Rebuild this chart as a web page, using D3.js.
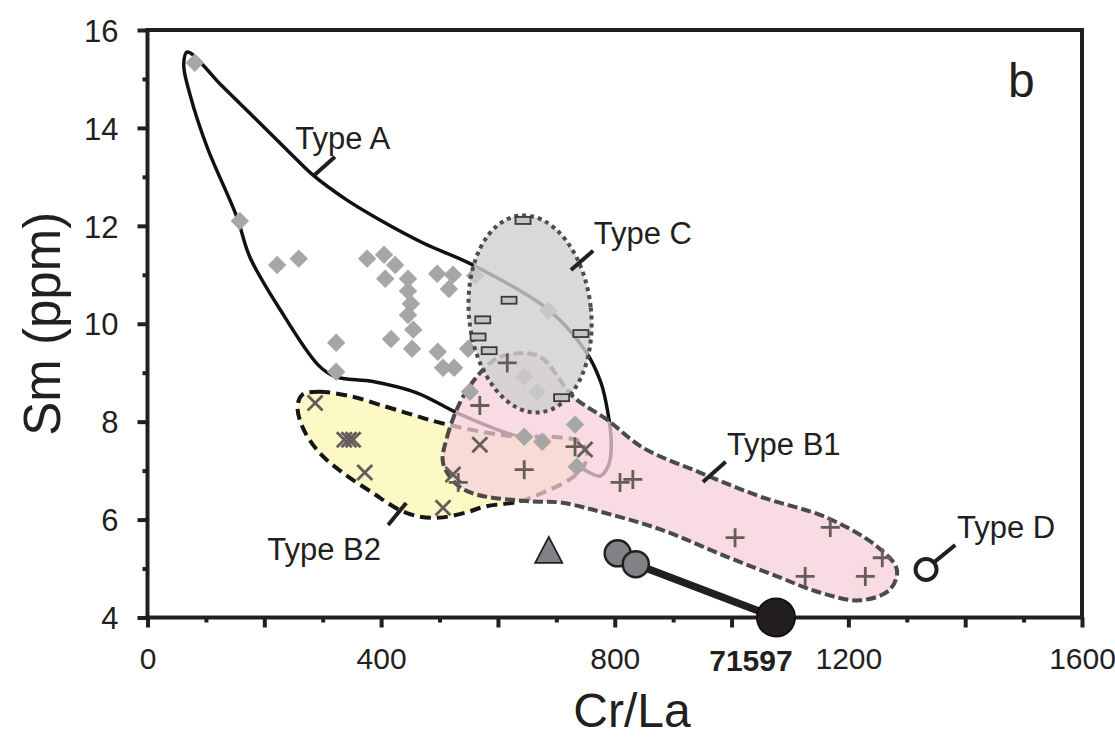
<!DOCTYPE html>
<html><head><meta charset="utf-8">
<script src="https://cdn.jsdelivr.net/npm/d3@7"></script>
<style>
body{margin:0;background:#fff}
svg{display:block}
text{font-family:"Liberation Sans",Arial,sans-serif;fill:#231f20}
</style>
</head><body>
<svg id="c" width="1115" height="740"></svg>
<script>
// ---------------- data (Cr/La, Sm ppm) ----------------
const typeA_points = [[81,15.33],[158,12.10],[222,11.20],[259,11.33],[376,11.33],[405,11.41],[424,11.20],
  [407,10.92],[446,10.92],[446,10.67],[451,10.41],[446,10.18],[455,9.88],[417,9.69],[453,9.49],[323,9.61],
  [496,11.02],[523,11.00],[561,10.98],[516,10.71],[497,9.43],[506,9.10],[525,9.10],[549,9.49],[323,9.02],
  [552,8.61],[686,10.27],[645,8.92],[667,8.61],[732,7.94],[645,7.69],[676,7.59],[735,7.08]];
const typeB1_points = [[616,9.20],[569,8.33],[732,7.49],[645,7.02],[532,6.76],[809,6.76],[831,6.82],
  [1006,5.63],[1169,5.84],[1258,5.22],[1126,4.84],[1229,4.84]];
const typeB2_points = [[287,8.38],[337,7.63],[345,7.63],[352,7.63],[372,6.96],[506,6.24],[569,7.53],
  [523,6.92],[749,7.43]];
const typeC_points = [[643,12.11],[619,10.48],[574,10.08],[566,9.73],[585,9.45],[742,9.80],[709,8.49]];
const typeD_point = [1333,4.98];
const triangle_point = [687,5.34];
const grey_circles = [[805,5.31],[836,5.09]];
const sample71597 = [1076,4.0];

// field outlines
const typeA_outline = [[68,15.55],[129,14.84],[187,14.16],[244,13.49],[283,13.04],[341,12.53],[398,12.12],[472,11.65],[557,11.20],
  [686,10.29],[749,9.46],[776,8.81],[788,8.20],[794,7.58],[790,7.13],[775,6.89],[749,7.01],[706,7.34],
  [650,7.62],[592,7.87],[530,8.18],[461,8.59],[386,8.82],[321,8.92],[292,9.16],[227,10.29],[175,11.37],
  [153,12.18],[102,13.61],[73,14.67],[62,15.29]];
const typeB1_outline = [[506,7.16],[513,7.69],[535,8.39],[564,8.92],[595,9.27],[629,9.39],[672,9.33],
  [729,8.51],[787,8.04],[848,7.47],[946,6.96],[1049,6.47],[1163,6.04],[1249,5.45],[1283,4.98],[1271,4.57],
  [1220,4.35],[1151,4.51],[1078,4.84],[992,5.24],[878,5.80],[763,6.20],[706,6.35],[660,6.37],[564,6.51],[530,6.71]];
const typeB2_outline = [[265,8.55],[294,8.61],[351,8.51],[407,8.31],[454,8.14],[500,7.98],[579,7.78],
  [637,7.69],[693,7.69],[740,7.59],[753,7.33],[745,7.06],[723,6.82],[681,6.57],[637,6.37],[579,6.27],
  [544,6.14],[500,6.04],[466,6.06],[431,6.20],[385,6.55],[334,6.96],[294,7.37],[265,7.90],[257,8.31]];
const typeC_center = [655,10.20];
const typeC_radii = [104.5,2.02];

// labels
const fieldLabels = [
  {text:"Type A", at:[253,13.57], lead:[[286,13.04],[321,13.41]]},
  {text:"Type C", at:[764,11.63], lead:[[725,11.10],[763,11.49]]},
  {text:"Type B1", at:[992,7.32], lead:[[951,6.77],[990,7.18]]},
  {text:"Type B2", at:[205,5.18], lead:[[412,5.89],[443,6.34]]},
  {text:"Type D", at:[1386,5.62], lead:[[1345,5.11],[1383,5.48]]}
];
const xTickValues = d3.range(0,1601,100);
const xTickLabels = [0,400,800,1200,1600];
const yTickValues = d3.range(4,16.01,1);
const yTickLabels = [4,6,8,10,12,14,16];

// ---------------- drawing ----------------
const svg = d3.select("#c");
const x = d3.scaleLinear().domain([0,1600]).range([147.5,1082]);
const y = d3.scaleLinear().domain([4,16]).range([617.5,30]);
const ink = "#231f20";
const closed = d3.line().x(d=>x(d[0])).y(d=>y(d[1])).curve(d3.curveCatmullRomClosed.alpha(0.5));

// Type A outline
svg.append("path").attr("d", closed(typeA_outline)).attr("fill","none")
  .attr("stroke","#111").attr("stroke-width",3.5);
// Type B2 field
svg.append("path").attr("d", closed(typeB2_outline)).attr("fill","#fcf9c4")
  .attr("stroke","#161616").attr("stroke-width",4).attr("stroke-dasharray","11,6");
// Type B1 field
svg.append("path").attr("d", closed(typeB1_outline)).attr("fill","rgb(247,208,218)").attr("fill-opacity",0.75)
  .attr("stroke","#4a4a4a").attr("stroke-width",4).attr("stroke-dasharray","10,4");
// Type A diamonds
const diamond = d3.symbol(d3.symbolSquare, 170)();
svg.append("g").selectAll("path").data(typeA_points).join("path")
  .attr("d", diamond).attr("transform", d=>`translate(${x(d[0])},${y(d[1])}) rotate(45)`)
  .attr("fill","#a6a6a6");
// Type C field
const cx = x(typeC_center[0]), cy = y(typeC_center[1]);
svg.append("ellipse").attr("cx",cx).attr("cy",cy)
  .attr("rx", x(typeC_center[0]+typeC_radii[0])-cx).attr("ry", cy-y(typeC_center[1]+typeC_radii[1]))
  .attr("transform",`rotate(-6,${cx},${cy})`)
  .attr("fill","#d0d0d0").attr("fill-opacity",0.8)
  .attr("stroke","#4d4d4d").attr("stroke-width",4).attr("stroke-dasharray","4,4");

// markers
const markColor = "#675c5c";
svg.append("g").selectAll("path").data(typeB2_points).join("path")
  .attr("d","M-7.5,-7.5L7.5,7.5M-7.5,7.5L7.5,-7.5").attr("transform", d=>`translate(${x(d[0])},${y(d[1])})`)
  .attr("stroke",markColor).attr("stroke-width",2.8).attr("fill","none");
svg.append("g").selectAll("path").data(typeB1_points).join("path")
  .attr("d","M-9.5,0H9.5M0,-9.5V9.5").attr("transform", d=>`translate(${x(d[0])},${y(d[1])})`)
  .attr("stroke",markColor).attr("stroke-width",2.8).attr("fill","none");
svg.append("g").selectAll("rect").data(typeC_points).join("rect")
  .attr("x", d=>x(d[0])-7.5).attr("y", d=>y(d[1])-3.5).attr("width",15).attr("height",7)
  .attr("fill","#c4c4c4").attr("stroke","#3a3a3a").attr("stroke-width",1.8);

// axes
const xAxis = svg.append("g").attr("transform",`translate(0,${y(4)})`)
  .call(d3.axisBottom(x).tickValues(xTickValues).tickSizeOuter(0)
    .tickFormat(d=> xTickLabels.includes(d) ? d : ""));
xAxis.select(".domain").remove();
xAxis.selectAll(".tick line").attr("stroke",ink).attr("stroke-width",4)
  .attr("y2", d=> d%200===0 ? 10 : 5);
xAxis.selectAll(".tick text").attr("y",51).attr("dy",0)
  .style("font-size","30px").style("font-family","'Liberation Sans',Arial,sans-serif").attr("fill",ink);
const yAxis = svg.append("g").attr("transform",`translate(${x(0)},0)`)
  .call(d3.axisLeft(y).tickValues(yTickValues).tickSizeOuter(0)
    .tickFormat(d=> yTickLabels.includes(d) ? d : ""));
yAxis.select(".domain").remove();
yAxis.selectAll(".tick line").attr("stroke",ink).attr("stroke-width",4)
  .attr("x2", d=> d%2===0 ? -10 : -5);
yAxis.selectAll(".tick text").attr("x",-29).attr("dy","0.36em")
  .style("font-size","31px").style("font-family","'Liberation Sans',Arial,sans-serif").attr("fill",ink);
// frame
svg.append("rect").attr("x",x(0)).attr("y",y(16)).attr("width",x(1600)-x(0)).attr("height",y(4)-y(16))
  .attr("fill","none").attr("stroke",ink).attr("stroke-width",4);

// other samples
svg.append("line").attr("x1",x(grey_circles[1][0])).attr("y1",y(grey_circles[1][1]))
  .attr("x2",x(sample71597[0])).attr("y2",y(sample71597[1])).attr("stroke",ink).attr("stroke-width",7.5);
svg.append("g").selectAll("circle").data(grey_circles).join("circle")
  .attr("cx",d=>x(d[0])).attr("cy",d=>y(d[1])).attr("r",13)
  .attr("fill","#808285").attr("stroke",ink).attr("stroke-width",2.5);
svg.append("circle").attr("cx",x(sample71597[0])).attr("cy",y(sample71597[1])).attr("r",19)
  .attr("fill",ink).attr("stroke","#111").attr("stroke-width",2);
svg.append("path").attr("d","M0,-15L13.5,11L-13.5,11Z")
  .attr("transform",`translate(${x(triangle_point[0])},${y(triangle_point[1])})`)
  .attr("fill","#808285").attr("stroke",ink).attr("stroke-width",1.8);
svg.append("circle").attr("cx",x(typeD_point[0])).attr("cy",y(typeD_point[1])).attr("r",10.5)
  .attr("fill","#fff").attr("stroke",ink).attr("stroke-width",4);

// field labels
fieldLabels.forEach(l=>{
  svg.append("line").attr("x1",x(l.lead[0][0])).attr("y1",y(l.lead[0][1]))
    .attr("x2",x(l.lead[1][0])).attr("y2",y(l.lead[1][1])).attr("stroke",ink).attr("stroke-width",4);
  svg.append("text").attr("x",x(l.at[0])).attr("y",y(l.at[1])).style("font-size","31px").text(l.text);
});
svg.append("text").attr("x",x(sample71597[0])-25).attr("y",671).attr("text-anchor","middle")
  .style("font-size","30px").style("font-weight","bold").text("71597");
svg.append("text").attr("x",1008).attr("y",97).style("font-size","48px").text("b");

// axis titles
svg.append("text").attr("x",632).attr("y",727).attr("text-anchor","middle")
  .style("font-size","48px").text("Cr/La");
svg.append("text").attr("transform",`translate(60,${y(10)}) rotate(-90)`).attr("text-anchor","middle")
  .style("font-size","51px").text("Sm (ppm)");
</script>
</body></html>
